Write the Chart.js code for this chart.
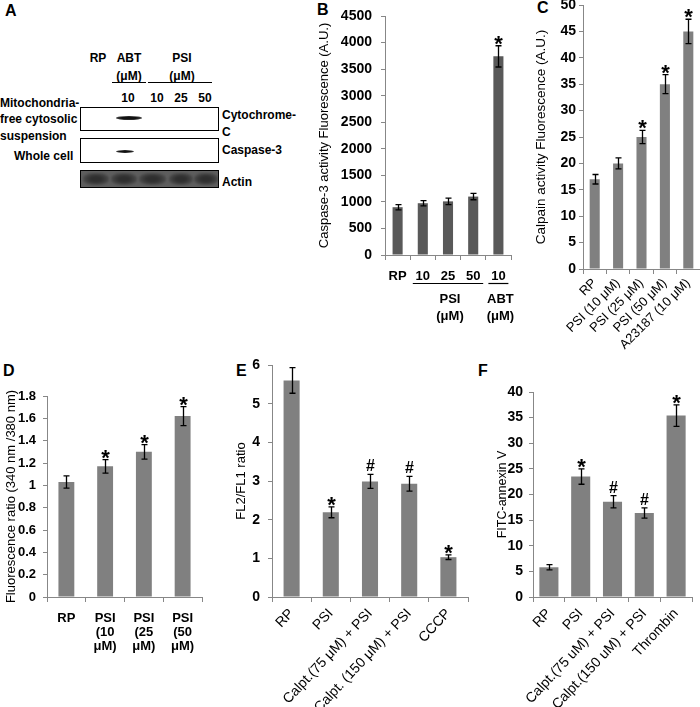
<!DOCTYPE html>
<html>
<head>
<meta charset="utf-8">
<script src="https://cdn.jsdelivr.net/npm/chart.js@4"></script>
<style>
  body { margin: 0; background: #fff; }
  #fig { position: relative; width: 700px; height: 707px; overflow: hidden; font-family: "Liberation Sans", Arial, sans-serif; color: #000; }
  .t { position: absolute; white-space: nowrap; font-weight: bold; font-size: 12px; line-height: 12px; }
  .c { transform: translateX(-50%); }
  .lbl { position: absolute; font-weight: bold; font-size: 16px; line-height: 16px; }
  .box { position: absolute; border: 1px solid #000; background: #fff; box-sizing: border-box; }
  .band { position: absolute; border-radius: 50%; background: radial-gradient(ellipse at center, #111 40%, #555 80%, #bbb 100%); filter: blur(0.5px); }
  .hl { position: absolute; height: 1px; background: #000; }
  .lane { position: absolute; top: 2px; height: 12px; border-radius: 40%; background: radial-gradient(ellipse at center, #2e2e2e 30%, #4a4a4a 70%, #5c5c5c 100%); filter: blur(1px); }
  canvas { position: absolute; }
</style>
</head>
<body>
<div id="fig">
  <!-- panel A: blot -->
  <div class="lbl" style="left:5px;top:3px">A</div>
  <div class="t c" style="left:98px;top:52px">RP</div>
  <div class="t c" style="left:129px;top:52px">ABT</div>
  <div class="t c" style="left:129px;top:70px">(μM)</div>
  <div class="t c" style="left:182px;top:52px">PSI</div>
  <div class="t c" style="left:182px;top:70px">(μM)</div>
  <div class="hl" style="left:112px;top:82px;width:34px"></div>
  <div class="hl" style="left:148px;top:82px;width:64px"></div>
  <div class="t c" style="left:128px;top:92px">10</div>
  <div class="t c" style="left:157px;top:92px">10</div>
  <div class="t c" style="left:181px;top:92px">25</div>
  <div class="t c" style="left:205px;top:92px">50</div>
  <div class="t" style="left:0px;top:97px">Mitochondria-</div>
  <div class="t" style="left:0px;top:113px">free cytosolic</div>
  <div class="t" style="left:0px;top:130px">suspension</div>
  <div class="t" style="left:14px;top:150px">Whole cell</div>
  <div class="t" style="left:222px;top:109px">Cytochrome-</div>
  <div class="t" style="left:222px;top:126px">C</div>
  <div class="t" style="left:222px;top:144px">Caspase-3</div>
  <div class="t" style="left:222px;top:176px">Actin</div>
  <div class="box" style="left:80px;top:107px;width:139px;height:24px"></div>
  <div class="band" style="left:116px;top:116px;width:26px;height:4px"></div>
  <div class="box" style="left:80px;top:138px;width:139px;height:25px"></div>
  <div class="band" style="left:116px;top:150px;width:18px;height:3px"></div>
  <div class="box" style="left:80px;top:170px;width:139px;height:18px;background:#5e5e5e;overflow:hidden">
    <div class="lane" style="left:2px;width:26px"></div>
    <div class="lane" style="left:30px;width:26px"></div>
    <div class="lane" style="left:58px;width:27px"></div>
    <div class="lane" style="left:88px;width:24px"></div>
    <div class="lane" style="left:113px;width:24px"></div>
  </div>

  <div class="lbl" style="left:317px;top:2px">B</div>
  <div class="lbl" style="left:537px;top:0px">C</div>
  <div class="lbl" style="left:3px;top:363px">D</div>
  <div class="lbl" style="left:236px;top:363px">E</div>
  <div class="lbl" style="left:478px;top:363px">F</div>

  <canvas id="chartB" width="198" height="330" style="left:317px;top:0px"></canvas>
  <canvas id="chartC" width="167" height="360" style="left:533px;top:0px"></canvas>
  <canvas id="chartD" width="206" height="327" style="left:4px;top:380px"></canvas>
  <canvas id="chartE" width="236" height="357" style="left:234px;top:350px"></canvas>
  <canvas id="chartF" width="205" height="327" style="left:495px;top:380px"></canvas>
</div>

<script>
// B: caspase-3 activity
const bCats = ['RP', '10', '25', '50', '10'];
const bVals = [900, 975, 1010, 1100, 3740];
const bErr = [50, 50, 60, 60, 200];
const bMarks = ['', '', '', '', '*'];
const bGroups = [['PSI', '(μM)'], ['ABT', '(μM)']];
const bGroupSpan = [[1, 3], [4, 4]];
const bRange = [0, 4500, 500];

// C: calpain activity
const cCats = ['RP', 'PSI (10 μM)', 'PSI (25 μM)', 'PSI (50 μM)', 'A23187 (10 μM)'];
const cVals = [17, 20, 25, 35, 45];
const cErr = [0.9, 1.05, 1.25, 1.8, 2.3];
const cMarks = ['', '', '*', '*', '*'];
const cRange = [0, 50, 5];

// D: fluorescence ratio
const dCats = [['RP'], ['PSI', '(10', 'μM)'], ['PSI', '(25', 'μM)'], ['PSI', '(50', 'μM)']];
const dVals = [1.03, 1.17, 1.30, 1.62];
const dErr = [0.055, 0.06, 0.065, 0.085];
const dMarks = ['', '*', '*', '*'];
const dRange = [0, 1.8, 0.2];

// E: FL2/FL1 ratio
const eCats = ['RP', 'PSI', 'Calpt.(75 μM) + PSI', 'Calpt. (150 μM) + PSI', 'CCCP'];
const eVals = [5.6, 2.19, 2.99, 2.93, 1.03];
const eErr = [0.33, 0.14, 0.18, 0.19, 0.06];
const eMarks = ['', '*', '#', '#', '*'];
const eRange = [0, 6, 1];

// F: FITC-annexin V
const fCats = ['RP', 'PSI', 'Calpt.(75 uM) + PSI', 'Calpt.(150 uM) + PSI', 'Thrombin'];
const fVals = [5.8, 23.5, 18.6, 16.4, 35.4];
const fErr = [0.5, 1.5, 1.2, 1.0, 2.1];
const fMarks = ['', '*', '#', '#', '*'];
const fRange = [0, 40, 5];

const FONT = '"Liberation Sans", Arial, sans-serif';
const AXIS = '#878787';
Chart.defaults.font.family = FONT;
Chart.defaults.color = '#000';

// error bars + significance marks
const errPlugin = {
  id: 'err',
  afterDatasetsDraw(chart, args, opts) {
    const ctx = chart.ctx;
    const y = chart.scales.y;
    const vals = chart.data.datasets[0].data;
    ctx.save();
    ctx.strokeStyle = '#000';
    ctx.fillStyle = '#000';
    ctx.lineWidth = 1.3;
    ctx.textAlign = 'center';
    ctx.textBaseline = 'alphabetic';
    chart.getDatasetMeta(0).data.forEach((bar, i) => {
      const hi = y.getPixelForValue(vals[i] + opts.errors[i]);
      const lo = y.getPixelForValue(vals[i] - opts.errors[i]);
      const cx = Math.round(bar.x) + 0.5;
      ctx.beginPath();
      ctx.moveTo(cx, hi); ctx.lineTo(cx, lo);
      ctx.moveTo(cx - 3, hi); ctx.lineTo(cx + 3, hi);
      ctx.moveTo(cx - 3, lo); ctx.lineTo(cx + 3, lo);
      ctx.stroke();
      const m = opts.marks[i];
      if (m === '*') {
        ctx.font = 'bold 22px ' + FONT;
        ctx.fillText('*', cx, hi + 5);
      } else if (m === '#') {
        ctx.font = 'bold 16px ' + FONT;
        ctx.fillText('#', cx, hi - 3);
      }
    });
    ctx.restore();
  }
};

// underlined group labels under the x axis (panel B)
const groupPlugin = {
  id: 'groups',
  afterDraw(chart, args, opts) {
    if (!opts.names) return;
    const ctx = chart.ctx;
    const x = chart.scales.x;
    const top = x.top;
    ctx.save();
    ctx.strokeStyle = '#000';
    ctx.fillStyle = '#000';
    ctx.lineWidth = 1.2;
    ctx.textAlign = 'center';
    ctx.textBaseline = 'middle';
    ctx.font = 'bold 13px ' + FONT;
    opts.names.forEach((name, g) => {
      const x0 = x.getPixelForValue(opts.spans[g][0]) - 10;
      const x1 = x.getPixelForValue(opts.spans[g][1]) + 10;
      ctx.beginPath();
      ctx.moveTo(x0, top + 28.5); ctx.lineTo(x1, top + 28.5);
      ctx.stroke();
      const mid = (x0 + x1) / 2 + 2;
      ctx.fillText(name[0], mid, top + 44);
      ctx.fillText(name[1], mid, top + 61);
    });
    ctx.restore();
  }
};

// plain numbers: 4500, 1, 0.8, 0
const plainTick = v => String(parseFloat(v.toFixed(2)));

function barChart(id, c) {
  return new Chart(document.getElementById(id), {
    type: 'bar',
    data: {
      labels: c.cats,
      datasets: [{ data: c.vals, backgroundColor: c.color, barPercentage: c.bar, categoryPercentage: 1 }]
    },
    options: {
      responsive: false,
      animation: false,
      devicePixelRatio: 1,
      layout: { padding: { top: c.pad[0], right: c.pad[1], left: 0, bottom: 0 } },
      plugins: {
        legend: { display: false },
        tooltip: { enabled: false },
        err: { errors: c.err, marks: c.marks },
        groups: { names: c.groups, spans: c.spans }
      },
      scales: {
        x: {
          grid: { offset: true, drawOnChartArea: false, tickLength: 5, color: AXIS },
          border: { color: AXIS },
          ticks: {
            autoSkip: false,
            minRotation: c.rot, maxRotation: c.rot,
            padding: c.xpad,
            font: { size: c.xfont, weight: c.xbold ? 'bold' : 'normal', lineHeight: 1.1 }
          },
          afterFit: s => { s.height = c.xh; s.paddingLeft = 0; s.paddingRight = 0; }
        },
        y: {
          min: c.range[0], max: c.range[1],
          ticks: { stepSize: c.range[2], padding: c.ypad, font: { size: c.yfont, weight: 'bold' }, callback: plainTick },
          grid: { drawOnChartArea: false, tickLength: 4, color: AXIS },
          border: { color: AXIS },
          title: { display: true, text: c.title, padding: 0, font: { size: c.tfont } },
          afterFit: s => { s.width = c.yw; s.paddingTop = 0; s.paddingBottom = 0; }
        }
      }
    },
    plugins: [errPlugin, groupPlugin]
  });
}

barChart('chartB', {
  cats: bCats, vals: bVals, err: bErr, marks: bMarks, range: bRange,
  groups: bGroups, spans: bGroupSpan,
  color: '#595959', bar: 0.4, pad: [16, 4], yw: 68, xh: 75,
  rot: 0, xpad: 9, xfont: 13, xbold: true, ypad: 9, yfont: 14,
  title: 'Caspase-3 activity Fluorescence (A.U.)', tfont: 13
});

barChart('chartC', {
  cats: cCats, vals: cVals, err: cErr, marks: cMarks, range: cRange,
  color: '#808080', bar: 0.43, pad: [5, 0], yw: 50, xh: 91,
  rot: 45, xpad: 2, xfont: 13, xbold: false, ypad: 3, yfont: 14,
  title: 'Calpain activity Fluorescence (A.U.)', tfont: 13.5
});

barChart('chartD', {
  cats: dCats, vals: dVals, err: dErr, marks: dMarks, range: dRange,
  color: '#808080', bar: 0.41, pad: [16, 8], yw: 43, xh: 110,
  rot: 0, xpad: 9, xfont: 13, xbold: true, ypad: 7, yfont: 13,
  title: 'Fluorescence ratio (340 nm /380 nm)', tfont: 13
});

barChart('chartE', {
  cats: eCats, vals: eVals, err: eErr, marks: eMarks, range: eRange,
  color: '#808080', bar: 0.41, pad: [15, 2], yw: 38, xh: 110,
  rot: 47, xpad: 4, xfont: 14, xbold: false, ypad: 8, yfont: 14,
  title: 'FL2/FL1 ratio', tfont: 13
});

barChart('chartF', {
  cats: fCats, vals: fVals, err: fErr, marks: fMarks, range: fRange,
  color: '#808080', bar: 0.6, pad: [12, 8], yw: 38, xh: 110,
  rot: 47, xpad: 4, xfont: 14, xbold: false, ypad: 6, yfont: 14,
  title: 'FITC-annexin V', tfont: 12.5
});
</script>
</body>
</html>
